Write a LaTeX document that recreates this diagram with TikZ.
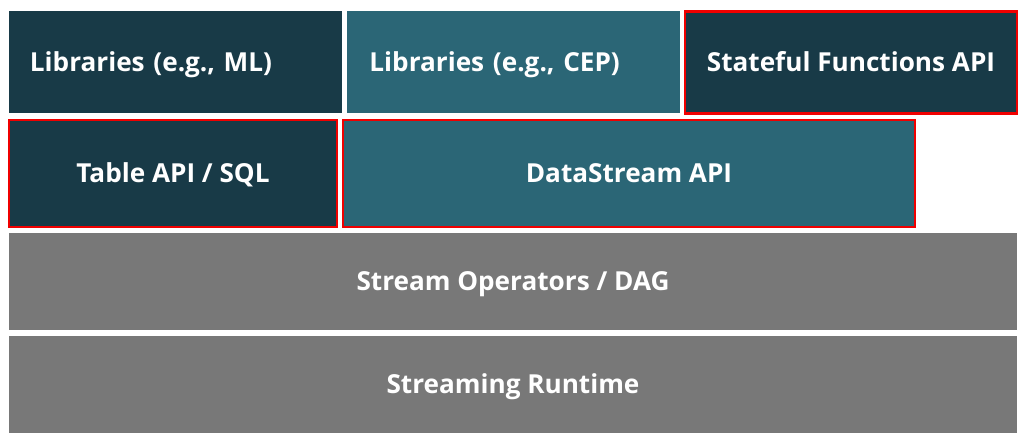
\documentclass[tikz,border=0pt]{standalone}
\usepackage{fontspec}
\setmainfont{Open Sans}
\usetikzlibrary{positioning}

\definecolor{flinkdark}{HTML}{183A47}
\definecolor{flinkteal}{HTML}{2B6676}
\definecolor{flinkgrey}{HTML}{787878}
\definecolor{flinkred}{HTML}{F00000}

\tikzset{
  layer/.style={font=\bfseries\fontsize{18.6}{22}\selectfont, text=white, inner sep=0pt,
    text height=13.3pt, text depth=0pt},
  darkbox/.style={layer, fill=flinkdark},
  tealbox/.style={layer, fill=flinkteal},
  greybox/.style={layer, fill=flinkgrey},
  marked/.style={draw=flinkred, line width=1.5pt},
}

\begin{document}
\begin{tikzpicture}[x=0.025cm, y=-0.025cm]
\useasboundingbox (0,0) rectangle (1032,441);
% top row
\node[darkbox, minimum width=8.325cm, minimum height=2.55cm, inner xsep=0.525cm, text width=7.275cm, align=left] (mlLib) at (175.5,62) {Libraries (e.g., ML)};
\node[tealbox, minimum width=8.3cm, minimum height=2.55cm, inner xsep=0.55cm, text width=7.2cm, align=left] (cepLib) at (513.5,62) {Libraries (e.g., CEP)};
\node[darkbox, marked, minimum width=8.3cm, minimum height=2.55cm] (statefun) at (851,62.5) {Stateful Functions API};
% api row
\node[darkbox, marked, minimum width=8.2cm, minimum height=2.675cm] (tableApi) at (173,173.5) {Table API / SQL};
\node[tealbox, marked, minimum width=14.3cm, minimum height=2.675cm] (dataStream) at (629,173.5) {DataStream API};
% core
\node[greybox, minimum width=25.2cm, minimum height=2.425cm] (operators) at (513,281.5) {Stream Operators / DAG};
\node[greybox, minimum width=25.2cm, minimum height=2.425cm] (runtime) at (513,384.5) {Streaming Runtime};
\end{tikzpicture}
\end{document}
